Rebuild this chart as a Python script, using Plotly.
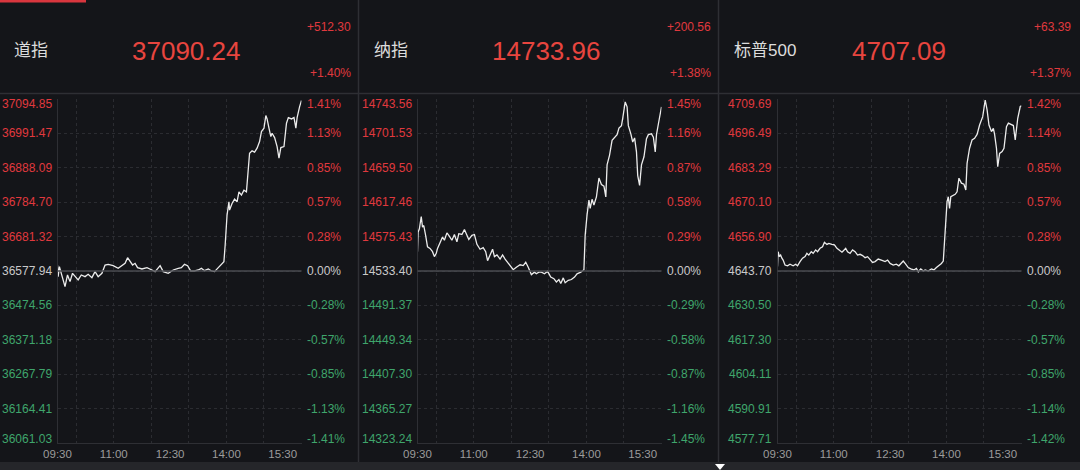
import plotly.graph_objects as go

W, H = 1080, 470

# ---------------- data ----------------
names = ["道指", "纳指", "标普500"]
last_price = ["37090.24", "14733.96", "4707.09"]
change_abs = ["+512.30", "+200.56", "+63.39"]
change_pct = ["+1.40%", "+1.38%", "+1.37%"]

time_tick_minutes = [0, 90, 180, 270, 360]
time_tick_labels = ["09:30", "11:00", "12:30", "14:00", "15:30"]
hour_grid_minutes = [30, 90, 150, 210, 270, 330, 390]

# Dow Jones (minutes after 09:30, index level)
dow_min = [0, 1, 3, 7, 10, 12, 16, 20, 24, 28,
           33, 38, 44, 49, 55, 60, 65, 71, 76, 81,
           89, 97, 103, 108, 112, 116, 120, 124, 128, 135,
           143, 151, 156, 164, 169, 177, 185, 193, 198, 203,
           208, 213, 219, 225, 230, 235, 241, 246, 251, 257,
           262, 266, 268, 271, 274, 275, 279, 283, 287, 290,
           294, 298, 302, 305, 307, 311, 315, 319, 323, 326,
           330, 333, 335, 338, 341, 343, 347, 351, 354, 357,
           362, 366, 369, 374, 378, 381, 383, 387, 390]
dow_val = [36596, 36561, 36591, 36566, 36546, 36531, 36566, 36546, 36571, 36561,
           36551, 36566, 36561, 36568, 36558, 36576, 36561, 36571, 36596, 36598,
           36594, 36586, 36594, 36601, 36618, 36606, 36596, 36601, 36588, 36584,
           36588, 36581, 36576, 36594, 36576, 36571, 36581, 36586, 36588, 36598,
           36594, 36578, 36578, 36581, 36586, 36579, 36584, 36578, 36576, 36588,
           36598, 36606, 36656, 36746, 36786, 36761, 36781, 36794, 36786, 36816,
           36806, 36821, 36816, 36876, 36932, 36939, 36935, 36947, 36967, 36997,
           37007, 37045, 37035, 37007, 36982, 36992, 36979, 36952, 36917, 36949,
           36952, 37022, 37039, 37035, 37039, 37007, 37039, 37072, 37090.24]
dow_ticks = [36061.03, 36164.41, 36267.79, 36371.18, 36474.56, 36577.94,
             36681.32, 36784.70, 36888.09, 36991.47, 37094.85]
dow_pct = ["-1.41%", "-1.13%", "-0.85%", "-0.57%", "-0.28%", "0.00%",
           "0.28%", "0.57%", "0.85%", "1.13%", "1.41%"]

# Nasdaq
ndq_min = [0, 1, 3, 6, 8, 10, 13, 16, 20, 24,
           27, 30, 32, 36, 40, 43, 47, 50, 55, 59,
           63, 66, 71, 75, 79, 82, 87, 91, 95, 100,
           105, 109, 112, 116, 120, 123, 127, 132, 136, 140,
           144, 148, 153, 158, 164, 169, 173, 177, 182, 187,
           190, 194, 198, 203, 208, 213, 218, 222, 226, 229,
           233, 236, 241, 246, 251, 255, 261, 266, 268, 271,
           274, 276, 279, 282, 286, 290, 294, 298, 301, 303,
           307, 311, 315, 319, 322, 326, 328, 332, 335, 337,
           341, 344, 347, 350, 352, 355, 358, 362, 366, 369,
           374, 377, 380, 382, 385, 390]
ndq_val = [14557, 14581, 14585, 14600, 14587, 14589, 14577, 14563, 14561, 14557,
           14551, 14555, 14561, 14569, 14575, 14571, 14580, 14577, 14571, 14578,
           14569, 14579, 14578, 14584, 14578, 14572, 14577, 14578, 14566, 14560,
           14562, 14557, 14546, 14553, 14560, 14551, 14553, 14548, 14553, 14548,
           14544, 14540, 14535, 14538, 14541, 14540, 14544, 14538, 14529, 14532,
           14530, 14532, 14532, 14530, 14533, 14526, 14524, 14520, 14523, 14518,
           14525, 14519, 14522, 14523, 14526, 14530, 14532, 14535, 14577, 14602,
           14620, 14610, 14621, 14614, 14624, 14647, 14639, 14637, 14624, 14663,
           14675, 14693, 14696, 14700, 14708, 14711, 14720, 14740, 14734, 14711,
           14701, 14691, 14696, 14679, 14650, 14638, 14663, 14673, 14695, 14700,
           14701, 14697, 14679, 14700, 14713, 14733.96]
ndq_ticks = [14323.24, 14365.27, 14407.30, 14449.34, 14491.37, 14533.40,
             14575.43, 14617.46, 14659.50, 14701.53, 14743.56]
ndq_pct = ["-1.45%", "-1.16%", "-0.87%", "-0.58%", "-0.29%", "0.00%",
           "0.29%", "0.58%", "0.87%", "1.16%", "1.45%"]

# S&P 500
spx_min = [0, 1, 3, 5, 7, 9, 12, 16, 20, 25,
           29, 32, 36, 40, 44, 47, 50, 54, 57, 61,
           64, 68, 72, 75, 79, 82, 87, 91, 95, 98,
           103, 105, 109, 112, 116, 120, 124, 128, 132, 136,
           140, 144, 148, 152, 156, 161, 166, 172, 176, 180,
           185, 190, 194, 197, 201, 204, 209, 213, 218, 222,
           225, 229, 233, 236, 241, 246, 250, 254, 258, 262,
           265, 267, 269, 271, 273, 275, 277, 280, 284, 287,
           290, 294, 298, 301, 303, 307, 311, 315, 319, 323,
           326, 328, 332, 335, 338, 342, 345, 347, 350, 352,
           355, 359, 362, 366, 369, 374, 377, 380, 382, 384,
           388, 390]
spx_val = [4645.4, 4651.1, 4649.2, 4649.8, 4648.6, 4647.9, 4646.0, 4645.7, 4646.3, 4645.7,
           4646.3, 4645.7, 4647.3, 4648.6, 4649.2, 4650.5, 4649.8, 4651.1, 4650.5, 4651.8,
           4651.1, 4652.4, 4653.0, 4654.7, 4653.9, 4654.3, 4653.9, 4653.7, 4652.4, 4651.8,
           4650.9, 4651.4, 4652.4, 4651.1, 4650.5, 4651.8, 4651.1, 4649.8, 4650.1, 4649.6,
           4648.8, 4649.2, 4647.9, 4647.0, 4647.3, 4648.3, 4647.9, 4647.3, 4647.9, 4646.6,
           4646.0, 4646.3, 4645.7, 4646.6, 4647.5, 4646.6, 4645.0, 4644.5, 4644.1, 4644.7,
           4643.4, 4644.5, 4643.7, 4644.1, 4643.7, 4644.5, 4644.1, 4645.0, 4645.7, 4646.6,
           4647.5, 4655.0, 4663.9, 4670.3, 4672.2, 4667.7, 4672.2, 4672.6, 4673.1, 4674.1,
           4679.3, 4677.4, 4677.0, 4674.8, 4685.0, 4690.8, 4694.0, 4694.6, 4696.1, 4699.7,
           4701.3, 4702.9, 4709.3, 4705.5, 4699.7, 4697.2, 4698.4, 4696.1, 4690.8, 4683.7,
           4688.8, 4689.5, 4690.8, 4699.1, 4700.4, 4699.7, 4699.5, 4694.0, 4699.5, 4702.3,
           4706.8, 4707.09]
spx_ticks = [4577.71, 4590.91, 4604.11, 4617.30, 4630.50, 4643.70,
             4656.90, 4670.10, 4683.29, 4696.49, 4709.69]
spx_pct = ["-1.42%", "-1.14%", "-0.85%", "-0.57%", "-0.28%", "0.00%",
           "0.28%", "0.57%", "0.85%", "1.14%", "1.42%"]

series = [
    (dow_min, dow_val, dow_ticks, dow_pct),
    (ndq_min, ndq_val, ndq_ticks, ndq_pct),
    (spx_min, spx_val, spx_ticks, spx_pct),
]

# ---------------- style ----------------
FONT = "Liberation Sans, Arial, Noto Sans CJK SC, sans-serif"
BG = "#141519"
GRID = "#2b2c31"
BORDER = "#2e2f34"
RED = "#e0393e"
BIG_RED = "#e8453f"
GREEN = "#3fa56c"
ZERO_TXT = "#c9c9c9"
TIME_TXT = "#9c9c9c"
LINE = "#ececec"


def fx(px):
    return px / W


def fy(py):
    return 1 - py / H


PANEL_W = 360
PLOT_L, PLOT_R = 57.5, 301.5
PLOT_T, PLOT_B = 99, 443

fig = go.Figure()
annotations = []
shapes = []

# page furniture
shapes.append(dict(type="rect", xref="paper", yref="paper", x0=0, x1=1,
                   y0=fy(470), y1=fy(462), fillcolor="#25262a", line_width=0, layer="below"))
shapes.append(dict(type="line", xref="paper", yref="paper", x0=0, x1=1,
                   y0=fy(93.5), y1=fy(93.5), line=dict(color=BORDER, width=1.5)))
for k in (1, 2):
    xs = fx(k * PANEL_W - 1.5)
    shapes.append(dict(type="line", xref="paper", yref="paper", x0=xs, x1=xs,
                       y0=fy(462), y1=fy(0), line=dict(color=BORDER, width=1.5)))
shapes.append(dict(type="rect", xref="paper", yref="paper", x0=0, x1=fx(86),
                   y0=fy(2.5), y1=fy(0), fillcolor="#d9363e", line_width=0))
shapes.append(dict(type="path", xref="paper", yref="paper",
                   path=f"M {fx(715)} {fy(464)} L {fx(725)} {fy(464)} L {fx(720)} {fy(470)} Z",
                   fillcolor="#ffffff", line_width=0))

for i, (tmin, vals, yt, pct) in enumerate(series):
    off = i * PANEL_W
    ax = "" if i == 0 else str(i + 1)
    xa, ya = "x" + ax, "y" + ax

    fig.add_trace(go.Scatter(x=tmin, y=vals, mode="lines", xaxis=xa, yaxis=ya,
                             line=dict(color=LINE, width=1.3), hoverinfo="skip",
                             showlegend=False))

    fig.update_layout(**{
        "xaxis" + ax: dict(
            domain=[fx(off + PLOT_L), fx(off + PLOT_R)], anchor=ya, range=[0, 390],
            tickmode="array", tickvals=time_tick_minutes, ticktext=time_tick_labels,
            tickfont=dict(size=11.5, color=TIME_TXT, family=FONT), ticks="",
            showgrid=False, zeroline=False, showline=True, linecolor=BORDER, linewidth=1,
            minor=dict(tickmode="array", tickvals=hour_grid_minutes, showgrid=True,
                       gridcolor=GRID, gridwidth=1, griddash="dot", ticks=""),
            automargin=False, fixedrange=True),
        "yaxis" + ax: dict(
            domain=[fy(PLOT_B), fy(PLOT_T)], anchor=xa, range=[yt[0], yt[-1]],
            tickmode="array", tickvals=yt, showticklabels=False,
            showgrid=True, gridcolor=GRID, gridwidth=1, griddash="dot",
            zeroline=False, showline=True, linecolor=BORDER, linewidth=1,
            automargin=False, fixedrange=True),
    })

    base = yt[5]
    shapes.append(dict(type="line", xref=xa + " domain", yref=ya, x0=0, x1=1,
                       y0=base, y1=base, line=dict(color="#4a4b50", width=1.5)))

    for j, (v, p) in enumerate(zip(yt, pct)):
        col = RED if v > base else (GREEN if v < base else ZERO_TXT)
        ysh = -5 if j == len(yt) - 1 else (4 if j == 0 else 0)
        annotations.append(dict(xref=xa + " domain", yref=ya, x=0, y=v,
                                text=f"{v:.2f}", showarrow=False, xanchor="right",
                                yanchor="middle", xshift=-4, yshift=ysh,
                                font=dict(size=12, color=col, family=FONT)))
        annotations.append(dict(xref=xa + " domain", yref=ya, x=1, y=v,
                                text=p, showarrow=False, xanchor="left",
                                yanchor="middle", xshift=3, yshift=ysh,
                                font=dict(size=12, color=col, family=FONT)))

    # header texts
    annotations.append(dict(xref="paper", yref="paper", x=fx(off + 12), y=fy(50),
                            text=names[i], showarrow=False, xanchor="left", yanchor="middle",
                            font=dict(size=17, color="#dcdcdc", family=FONT)))
    annotations.append(dict(xref="paper", yref="paper", x=fx(off + 130), y=fy(51),
                            text=last_price[i], showarrow=False, xanchor="left", yanchor="middle",
                            font=dict(size=26, color=BIG_RED, family=FONT)))
    annotations.append(dict(xref="paper", yref="paper", x=fx(off + 353), y=fy(27),
                            text=change_abs[i], showarrow=False, xanchor="right", yanchor="middle",
                            font=dict(size=12, color=RED, family=FONT)))
    annotations.append(dict(xref="paper", yref="paper", x=fx(off + 353), y=fy(72.5),
                            text=change_pct[i], showarrow=False, xanchor="right", yanchor="middle",
                            font=dict(size=12, color=RED, family=FONT)))

fig.update_layout(width=W, height=H, margin=dict(l=0, r=0, t=0, b=0, autoexpand=False),
                  paper_bgcolor=BG, plot_bgcolor=BG, showlegend=False,
                  font=dict(family=FONT), annotations=annotations, shapes=shapes)

fig.write_html("out.html", config={"displayModeBar": False},
               post_script="document.body.style.margin='0';document.body.style.padding='0';"
                           "document.body.style.overflow='hidden';"
                           "document.body.style.background='#141519';")
